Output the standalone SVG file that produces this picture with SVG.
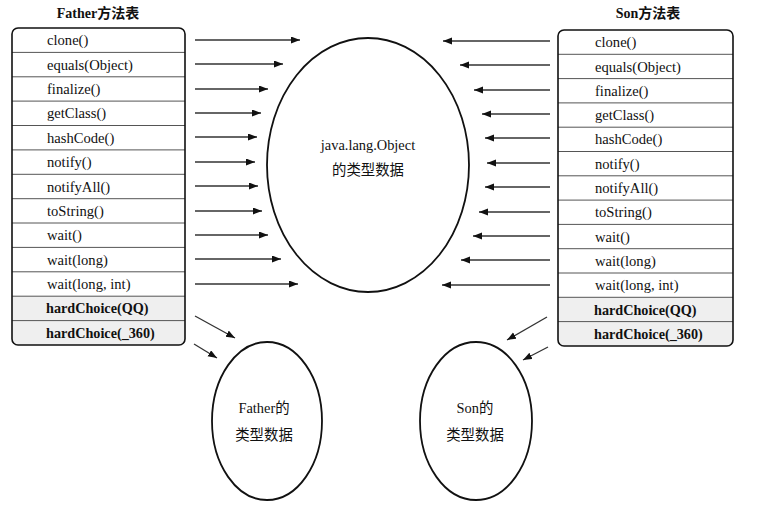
<svg xmlns="http://www.w3.org/2000/svg" width="770" height="506" viewBox="0 0 770 506">
<style>
.t{font-family:"Liberation Serif","Noto Sans CJK SC",serif;font-size:14.6px;fill:#111}
.b{font-weight:bold;font-size:14.2px}
.ttl{font-family:"Liberation Serif","Noto Sans CJK SC",serif;font-size:14px;fill:#111;font-weight:bold;text-anchor:middle}
.c{font-family:"Liberation Serif","Noto Sans CJK SC",serif;font-size:14.4px;fill:#111;text-anchor:middle}
.box{fill:none;stroke:#111;stroke-width:1.6}
.div{stroke:#555;stroke-width:1}
.shade{fill:#efefef}
.ell{fill:none;stroke:#111;stroke-width:1.8}
.arr{stroke:#333;stroke-width:1.3;fill:none;marker-end:url(#ah)}
</style>
<defs>
<marker id="ah" markerUnits="userSpaceOnUse" markerWidth="10" markerHeight="8" refX="9" refY="3.5" orient="auto">
<path d="M0,0 L9,3.5 L0,7 Z" fill="#111"/>
</marker>
</defs>
<rect width="770" height="506" fill="#fff"/>

<g id="father-table">
<text class="ttl" x="98" y="18">Father方法表</text>
<path class="shade" d="M12,296.2 H185 V339 Q185,345 179,345 H18 Q12,345 12,339 Z"/>
<g class="div">
<line x1="12" y1="52.4" x2="185" y2="52.4"/>
<line x1="12" y1="76.8" x2="185" y2="76.8"/>
<line x1="12" y1="101.1" x2="185" y2="101.1"/>
<line x1="12" y1="125.5" x2="185" y2="125.5"/>
<line x1="12" y1="149.9" x2="185" y2="149.9"/>
<line x1="12" y1="174.3" x2="185" y2="174.3"/>
<line x1="12" y1="198.7" x2="185" y2="198.7"/>
<line x1="12" y1="223" x2="185" y2="223"/>
<line x1="12" y1="247.4" x2="185" y2="247.4"/>
<line x1="12" y1="271.8" x2="185" y2="271.8"/>
<line x1="12" y1="296.2" x2="185" y2="296.2"/>
<line x1="12" y1="320.6" x2="185" y2="320.6"/>
</g>
<rect class="box" x="12" y="28" width="173" height="317" rx="6"/>
<text class="t" x="47" y="45.2">clone()</text>
<text class="t" x="47" y="69.6">equals(Object)</text>
<text class="t" x="47" y="94">finalize()</text>
<text class="t" x="47" y="118.3">getClass()</text>
<text class="t" x="47" y="142.7">hashCode()</text>
<text class="t" x="47" y="167.1">notify()</text>
<text class="t" x="47" y="191.5">notifyAll()</text>
<text class="t" x="47" y="215.9">toString()</text>
<text class="t" x="47" y="240.2">wait()</text>
<text class="t" x="47" y="264.6">wait(long)</text>
<text class="t" x="47" y="289">wait(long, int)</text>
<text class="t b" x="46" y="313.4">hardChoice(QQ)</text>
<text class="t b" x="46" y="337.8">hardChoice(_360)</text>
</g>

<g id="son-table">
<text class="ttl" x="648" y="18">Son方法表</text>
<path class="shade" d="M558,297.3 H733 V340 Q733,346 727,346 H564 Q558,346 558,340 Z"/>
<g class="div">
<line x1="558" y1="54.3" x2="733" y2="54.3"/>
<line x1="558" y1="78.6" x2="733" y2="78.6"/>
<line x1="558" y1="102.9" x2="733" y2="102.9"/>
<line x1="558" y1="127.2" x2="733" y2="127.2"/>
<line x1="558" y1="151.5" x2="733" y2="151.5"/>
<line x1="558" y1="175.8" x2="733" y2="175.8"/>
<line x1="558" y1="200.1" x2="733" y2="200.1"/>
<line x1="558" y1="224.4" x2="733" y2="224.4"/>
<line x1="558" y1="248.7" x2="733" y2="248.7"/>
<line x1="558" y1="273" x2="733" y2="273"/>
<line x1="558" y1="297.3" x2="733" y2="297.3"/>
<line x1="558" y1="321.6" x2="733" y2="321.6"/>
</g>
<rect class="box" x="558" y="30" width="175" height="316" rx="6"/>
<text class="t" x="595" y="47.2">clone()</text>
<text class="t" x="595" y="71.5">equals(Object)</text>
<text class="t" x="595" y="95.8">finalize()</text>
<text class="t" x="595" y="120.1">getClass()</text>
<text class="t" x="595" y="144.4">hashCode()</text>
<text class="t" x="595" y="168.7">notify()</text>
<text class="t" x="595" y="193">notifyAll()</text>
<text class="t" x="595" y="217.3">toString()</text>
<text class="t" x="595" y="241.6">wait()</text>
<text class="t" x="595" y="265.9">wait(long)</text>
<text class="t" x="595" y="290.2">wait(long, int)</text>
<text class="t b" x="594" y="314.5">hardChoice(QQ)</text>
<text class="t b" x="594" y="338.8">hardChoice(_360)</text>
</g>

<g id="object-data">
<ellipse class="ell" cx="368" cy="165" rx="101" ry="127"/>
<text class="c" x="368" y="150">java.lang.Object</text>
<text class="c" x="368" y="175">的类型数据</text>
</g>

<g id="father-data">
<ellipse class="ell" cx="267" cy="421" rx="55" ry="79"/>
<text class="c" x="264" y="413">Father的</text>
<text class="c" x="264" y="440">类型数据</text>
</g>

<g id="son-data">
<ellipse class="ell" cx="476" cy="421" rx="56" ry="79"/>
<text class="c" x="475" y="413">Son的</text>
<text class="c" x="475" y="440">类型数据</text>
</g>

<g id="connectors">
<line class="arr" x1="195" y1="40" x2="300" y2="40"/>
<line class="arr" x1="195" y1="64" x2="283" y2="64"/>
<line class="arr" x1="195" y1="89" x2="268" y2="89"/>
<line class="arr" x1="195" y1="113" x2="261" y2="113"/>
<line class="arr" x1="195" y1="137" x2="257" y2="137"/>
<line class="arr" x1="195" y1="162" x2="255" y2="162"/>
<line class="arr" x1="195" y1="186" x2="258" y2="186"/>
<line class="arr" x1="195" y1="211" x2="262" y2="211"/>
<line class="arr" x1="195" y1="235" x2="268" y2="235"/>
<line class="arr" x1="195" y1="259" x2="281" y2="259"/>
<line class="arr" x1="195" y1="284" x2="298" y2="284"/>

<line class="arr" x1="550" y1="41" x2="443" y2="41"/>
<line class="arr" x1="550" y1="65" x2="460" y2="65"/>
<line class="arr" x1="550" y1="90" x2="474" y2="90"/>
<line class="arr" x1="550" y1="114" x2="482" y2="114"/>
<line class="arr" x1="550" y1="138" x2="485" y2="138"/>
<line class="arr" x1="550" y1="163" x2="487" y2="163"/>
<line class="arr" x1="550" y1="187" x2="485" y2="187"/>
<line class="arr" x1="550" y1="212" x2="479" y2="212"/>
<line class="arr" x1="550" y1="236" x2="473" y2="236"/>
<line class="arr" x1="550" y1="260" x2="461" y2="260"/>
<line class="arr" x1="550" y1="285" x2="442" y2="285"/>

<line class="arr" x1="195" y1="316" x2="235" y2="338"/>
<line class="arr" x1="194" y1="344" x2="217" y2="358"/>
<line class="arr" x1="547" y1="317" x2="507" y2="340"/>
<line class="arr" x1="548" y1="347" x2="523" y2="360"/>
</g>
</svg>
